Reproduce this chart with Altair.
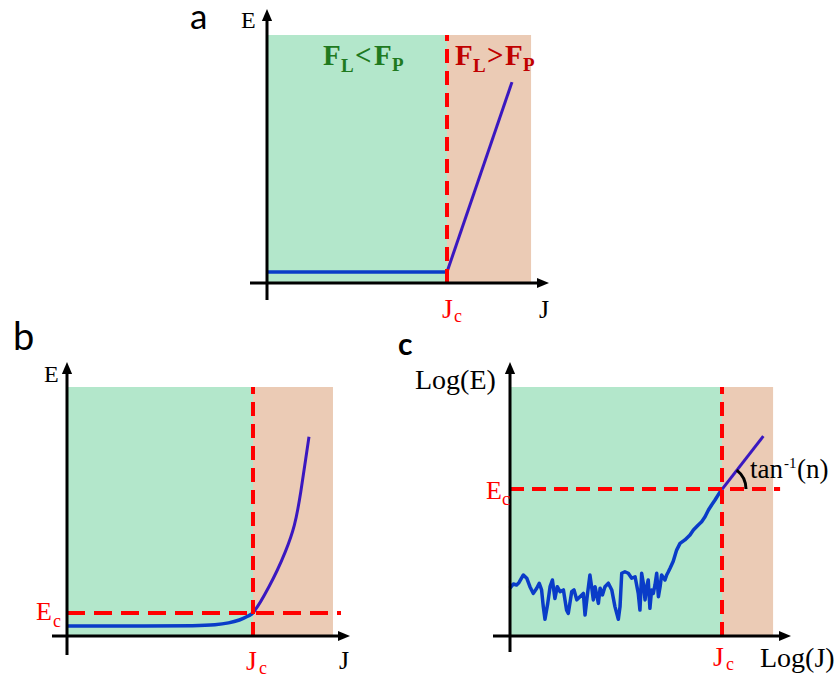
import math
import altair as alt
import pandas as pd

# ---------------- data ----------------
JC = 1.0            # critical current = unit of J in each panel
E_TOP = 1.0         # top of the shaded regions

# panel a : ideal (step-like) E-J
A_BG_JMAX = 1.467
A_FLAT_J = [0.0, 1.0]
A_FLAT_E = [0.044, 0.044]
A_RISE_J = [1.0, 1.361]
A_RISE_E = [0.044, 0.810]

# panel b : linear E-J with power-law rise
B_BG_JMAX = 1.430
B_EC = 0.092
B_DASH_JMAX = 1.473
B_J = [0.0, 0.45, 0.70, 0.80, 0.87, 0.93, 0.97, 1.00]
B_E = [0.040, 0.040, 0.041, 0.045, 0.052, 0.064, 0.078, 0.092]
B_RISE_J = [1.00, 1.04, 1.086, 1.13, 1.172, 1.226, 1.258, 1.285, 1.301]
B_RISE_E = [0.092, 0.135, 0.197, 0.262, 0.333, 0.440, 0.580, 0.720, 0.800]

# panel c : log-log E-J with noisy floor
C_BG_JMAX = 1.241
C_EC = 0.590
C_DASH_JMAX = 1.274
C_J = [0.000, 0.016, 0.031, 0.042, 0.063, 0.079, 0.094, 0.110, 0.126, 0.138,
       0.149, 0.157, 0.165, 0.178, 0.189, 0.200, 0.212, 0.223, 0.236, 0.252,
       0.267, 0.275, 0.291, 0.302, 0.315, 0.330, 0.346, 0.354, 0.365, 0.377,
       0.385, 0.393, 0.401, 0.417, 0.425, 0.436, 0.448, 0.464, 0.480, 0.495,
       0.511, 0.519, 0.527, 0.542, 0.558, 0.574, 0.590, 0.605, 0.613, 0.621,
       0.629, 0.637, 0.645, 0.652, 0.660, 0.668, 0.676, 0.684, 0.692, 0.700,
       0.708, 0.715, 0.731, 0.739, 0.747, 0.755, 0.770, 0.786, 0.802, 0.825,
       0.849, 0.865, 0.888, 0.904, 0.920, 0.936, 0.951, 0.967, 0.991, 1.000]
C_E = [0.192, 0.209, 0.205, 0.214, 0.245, 0.232, 0.198, 0.171, 0.192, 0.212,
       0.185, 0.118, 0.067, 0.131, 0.198, 0.225, 0.151, 0.198, 0.178, 0.185,
       0.104, 0.091, 0.178, 0.185, 0.145, 0.158, 0.171, 0.084, 0.165, 0.245,
       0.198, 0.145, 0.198, 0.131, 0.192, 0.165, 0.198, 0.212, 0.185, 0.118,
       0.067, 0.118, 0.252, 0.258, 0.252, 0.232, 0.238, 0.171, 0.104, 0.252,
       0.212, 0.145, 0.198, 0.225, 0.111, 0.185, 0.171, 0.205, 0.252, 0.158,
       0.198, 0.245, 0.225, 0.245, 0.258, 0.272, 0.300, 0.345, 0.372, 0.386,
       0.406, 0.426, 0.446, 0.459, 0.479, 0.506, 0.526, 0.546, 0.579, 0.589]
C_FIT_J = [1.000, 1.195]
C_FIT_E = [0.589, 0.803]

# ---------------- styles ----------------
GREEN_BG = "#b3e7cb"
TAN_BG = "#ebcbb5"
BLUE = "#0a3cc8"
PURPLE = "#3a18c0"
RED = "#ff0000"
DARK_RED = "#c00000"
DARK_GREEN = "#1f7a1f"
FONTS = {
    "serif": ("Liberation Serif", "normal"),
    "serifbold": ("Liberation Serif", "bold"),
    "sans": ("Lato", "normal"),
    "sansbold": ("Lato", "bold"),
}
ARROW_RIGHT = "M0,0 L-2,-0.85 L-2,0.85 Z"
ARROW_UP = "M0,0 L-0.85,2 L0.85,2 Z"

# panel geometry: origin of axes (px), pixels per unit, view box (px)
PA = dict(ox=267, oy=283, ux=180, uy=248, left=0, top=0, w=580, h=320)
PB = dict(ox=67, oy=636, ux=186, uy=249, left=0, top=320, w=380, h=359)
PC = dict(ox=510, oy=636, ux=212, uy=249, left=380, top=320, w=457, h=359)


def ux(P, px):
    return (px - P["ox"]) / P["ux"]


def uy(P, py):
    return (P["oy"] - py) / P["uy"]


def X(P, f="x"):
    d = [ux(P, P["left"]), ux(P, P["left"] + P["w"])]
    return alt.X(f"{f}:Q", scale=alt.Scale(domain=d, nice=False, zero=False), axis=None)


def Y(P, f="y"):
    d = [uy(P, P["top"] + P["h"]), uy(P, P["top"])]
    return alt.Y(f"{f}:Q", scale=alt.Scale(domain=d, nice=False, zero=False), axis=None)


def backgrounds(P, jmax):
    df = pd.DataFrame({"x": [0, JC], "x2": [JC, jmax], "y": [0, 0],
                       "y2": [E_TOP, E_TOP], "c": [GREEN_BG, TAN_BG]})
    return alt.Chart(df).mark_rect().encode(
        x=X(P), x2="x2:Q", y=Y(P), y2="y2:Q", color=alt.Color("c:N", scale=None))


def curve(P, js, es, color, width, interp="linear"):
    df = pd.DataFrame({"x": js, "y": es, "i": list(range(len(js)))})
    return alt.Chart(df).mark_line(color=color, strokeWidth=width, strokeJoin="round",
                                   interpolate=interp).encode(
        x=X(P), y=Y(P), order="i:Q")


def dashed(P, x, x2, y, y2, dash):
    df = pd.DataFrame({"x": [x], "x2": [x2], "y": [y], "y2": [y2]})
    return alt.Chart(df).mark_rule(color=RED, strokeWidth=4, strokeDash=dash).encode(
        x=X(P), x2="x2:Q", y=Y(P), y2="y2:Q")


def axes(P, xa, ya):
    # xa: (x_start_px, x_tip_px); ya: (y_start_px, y_tip_px)
    lines = pd.DataFrame({
        "x": [ux(P, xa[0]), 0.0], "x2": [ux(P, xa[1] - 6), 0.0],
        "y": [0.0, uy(P, ya[0])], "y2": [0.0, uy(P, ya[1] + 6)]})
    rules = alt.Chart(lines).mark_rule(color="black", strokeWidth=3).encode(
        x=X(P), x2="x2:Q", y=Y(P), y2="y2:Q")
    rt = alt.Chart(pd.DataFrame({"x": [ux(P, xa[1])], "y": [0.0]})).mark_point(
        shape=ARROW_RIGHT, size=144, filled=True, color="black", opacity=1, strokeWidth=0
    ).encode(x=X(P), y=Y(P))
    up = alt.Chart(pd.DataFrame({"x": [0.0], "y": [uy(P, ya[1])]})).mark_point(
        shape=ARROW_UP, size=144, filled=True, color="black", opacity=1, strokeWidth=0
    ).encode(x=X(P), y=Y(P))
    return [rules, rt, up]


def texts(P, items):
    groups = {}
    for t, px, py, size, color, fk in items:
        groups.setdefault(fk, []).append(
            {"x": ux(P, px), "y": uy(P, py), "t": t, "s": size, "c": color})
    out = []
    for fk, rows in groups.items():
        font, weight = FONTS[fk]
        out.append(alt.Chart(pd.DataFrame(rows)).mark_text(
            align="left", baseline="alphabetic", font=font, fontWeight=weight
        ).encode(x=X(P), y=Y(P), text="t:N",
                 size=alt.Size("s:Q", scale=None),
                 color=alt.Color("c:N", scale=None)))
    return out


# ---------------- panel a ----------------
layers_a = [
    backgrounds(PA, A_BG_JMAX),
    curve(PA, A_FLAT_J, A_FLAT_E, BLUE, 3.5),
    curve(PA, A_RISE_J, A_RISE_E, PURPLE, 3),
    dashed(PA, JC, JC, 0, E_TOP, [14, 8]),
] + axes(PA, (250, 549), (300, 9)) + texts(PA, [
    ("a", 190, 29, 35, "black", "sans"),
    ("E", 241, 28, 24, "black", "serif"),
    ("J", 539, 318, 26, "black", "serif"),
    ("J", 442, 318, 28, RED, "serif"), ("c", 454, 322, 18, RED, "serif"),
    ("F", 323, 65, 29, DARK_GREEN, "serifbold"), ("L", 341, 72, 19, DARK_GREEN, "serifbold"),
    ("<", 355, 65, 29, DARK_GREEN, "serifbold"), ("F", 374, 65, 29, DARK_GREEN, "serifbold"),
    ("P", 392, 71, 19, DARK_GREEN, "serifbold"),
    ("F", 455, 65, 29, DARK_RED, "serifbold"), ("L", 473, 72, 19, DARK_RED, "serifbold"),
    (">", 487, 65, 29, DARK_RED, "serifbold"), ("F", 505, 65, 29, DARK_RED, "serifbold"),
    ("P", 523, 71, 19, DARK_RED, "serifbold"),
])
pa = alt.layer(*layers_a).properties(width=PA["w"], height=PA["h"])

# ---------------- panel b ----------------
layers_b = [
    backgrounds(PB, B_BG_JMAX),
    curve(PB, B_J, B_E, BLUE, 3.5, "basis"),
    curve(PB, B_RISE_J, B_RISE_E, PURPLE, 3, "basis"),
    dashed(PB, JC, JC, 0, E_TOP, [14, 8]),
    dashed(PB, 0, B_DASH_JMAX, B_EC, B_EC, [18, 9]),
] + axes(PB, (52, 350), (655, 362)) + texts(PB, [
    ("b", 13, 350, 38, "black", "sans"),
    ("E", 44, 382, 24, "black", "serif"),
    ("E", 36, 620, 26, RED, "serif"), ("c", 53, 627, 18, RED, "serif"),
    ("J", 246, 670, 28, RED, "serif"), ("c", 259, 674, 18, RED, "serif"),
    ("J", 339, 669, 26, "black", "serif"),
])
pb = alt.layer(*layers_b).properties(width=PB["w"], height=PB["h"])

# ---------------- panel c ----------------
dxp = (C_FIT_J[1] - C_FIT_J[0]) * PC["ux"]
dyp = (C_FIT_E[1] - C_FIT_E[0]) * PC["uy"]
theta0 = math.pi / 2 - math.atan2(dyp, dxp)
arc = alt.Chart(pd.DataFrame({"x": [JC], "y": [C_EC]})).mark_arc(
    radius=25.5, radius2=22.5, theta=theta0, theta2=math.pi / 2, color="black"
).encode(x=X(PC), y=Y(PC))

layers_c = [
    backgrounds(PC, C_BG_JMAX),
    curve(PC, C_J, C_E, BLUE, 3.5),
    curve(PC, C_FIT_J, C_FIT_E, PURPLE, 3),
    dashed(PC, JC, JC, 0, E_TOP, [14, 8]),
    dashed(PC, 0, C_DASH_JMAX, C_EC, C_EC, [14, 8]),
    arc,
] + axes(PC, (493, 791), (652, 362)) + texts(PC, [
    ("c", 398, 355, 30, "black", "sansbold"),
    ("Log(E)", 415, 389, 28, "black", "serif"),
    ("E", 486, 499, 26, RED, "serif"), ("c", 502, 505, 18, RED, "serif"),
    ("J", 713, 666, 28, RED, "serif"), ("c", 726, 670, 18, RED, "serif"),
    ("Log(J)", 760, 667, 28, "black", "serif"),
    ("tan", 750, 478, 27, "black", "serif"),
    ("-1", 784, 468, 15, "black", "serif"),
    ("(n)", 797, 478, 27, "black", "serif"),
])
pc = alt.layer(*layers_c).properties(width=PC["w"], height=PC["h"])

chart = alt.vconcat(
    pa,
    alt.hconcat(pb, pc, spacing=0, bounds="flush"),
    spacing=0, bounds="flush",
).properties(padding=0).configure_view(stroke=None)

chart.save("out.html", embed_options={"renderer": "svg", "actions": False})
